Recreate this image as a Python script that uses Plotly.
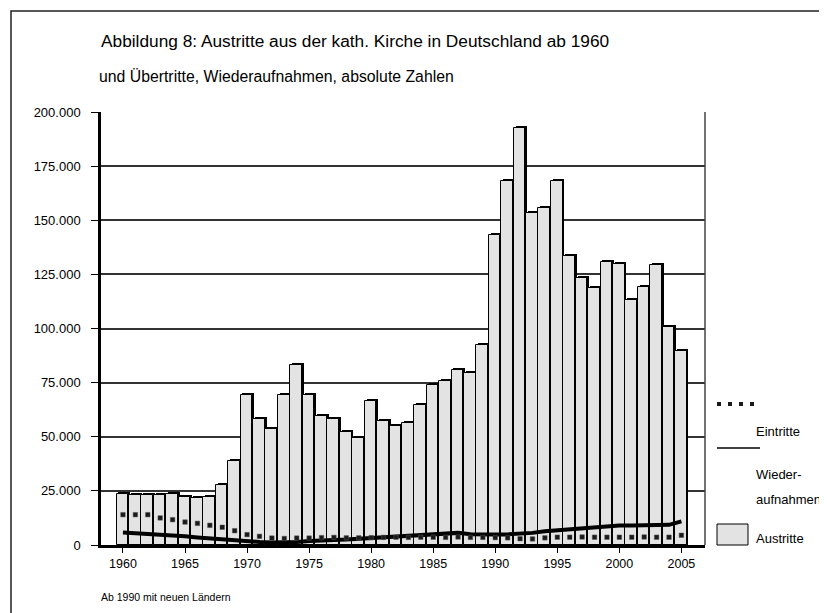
import plotly.graph_objects as go

# ---------------- data ----------------
years = list(range(1960, 2006))
austritte = [23600, 23000, 23000, 23000, 23600, 22300, 21700, 22300, 27900, 38700,
             69400, 58200, 53700, 69400, 83200, 69400, 59400, 58200, 52100, 49400,
             66400, 57100, 55100, 56400, 64500, 74100, 75900, 81000, 79500, 92500,
             143400, 168000, 192800, 153400, 155600, 168000, 133400, 123400, 118700, 130700,
             129800, 113300, 119000, 129500, 100600, 89500]
eintritte = [14000, 14000, 14000, 12500, 11700, 10600, 10000, 9100, 8200, 6600,
             4800, 4000, 3200, 3000, 3200, 3200, 3400, 3500, 3300, 3300,
             3400, 3500, 3600, 3500, 3600, 3600, 3500, 3700, 3500, 3500,
             3400, 3300, 2900, 2800, 3300, 3600, 3600, 3700, 3600, 3600,
             3600, 3600, 3700, 3600, 3600, 4500]
wiederaufnahmen = [5800, 5500, 5200, 4800, 4400, 4000, 3500, 3000, 2500, 2000,
                   1700, 1400, 1200, 1200, 1400, 1800, 2200, 2300, 2500, 2800,
                   3200, 3600, 4000, 4300, 4500, 4800, 5000, 5600, 5000, 4800,
                   4800, 4900, 5200, 5600, 6300, 6800, 7100, 7500, 8000, 8600,
                   9000, 9000, 9000, 9100, 9300, 10900]
y_ticks = [0, 25000, 50000, 75000, 100000, 125000, 150000, 175000, 200000]
x_ticks = [1960, 1965, 1970, 1975, 1980, 1985, 1990, 1995, 2000, 2005]

title = "Abbildung 8: Austritte aus der kath. Kirche in Deutschland ab 1960"
subtitle = "und Übertritte, Wiederaufnahmen, absolute Zahlen"
footnote = "Ab 1990 mit neuen Ländern"

# ---------------- layout helpers (pixel -> paper) ----------------
W, H = 827, 613
L, R, T, B = 93, 697, 104, 537


def px(x):
    return (x - L) / (R - L)


def py(y):
    return (B - y) / (B - T)


FONT = "Liberation Sans, Arial, sans-serif"
shadow_shift = 900  # ~2px upward shadow

fig = go.Figure()

# shadow bars (3D effect)
fig.add_trace(go.Bar(
    x=years, y=[v + shadow_shift for v in austritte],
    width=0.94, offset=-0.37,
    marker=dict(color="black", line=dict(width=0)),
    hoverinfo="skip", showlegend=False,
))
# main bars
fig.add_trace(go.Bar(
    x=years, y=austritte, name="Austritte",
    width=0.94, offset=-0.52,
    marker=dict(color="#e3e3e3", line=dict(color="black", width=1)),
    showlegend=False,
))
# Wiederaufnahmen (solid)
fig.add_trace(go.Scatter(
    x=years, y=wiederaufnahmen, mode="lines", name="Wiederaufnahmen",
    line=dict(color="black", width=4), showlegend=False,
))
# Eintritte (square dots)
fig.add_trace(go.Scatter(
    x=years, y=eintritte, mode="markers", name="Eintritte",
    marker=dict(symbol="square", size=4.5, color="#1a1a1a",
                line=dict(color="#555", width=0.5)),
    showlegend=False,
))

shapes = [
    # outer frame
    dict(type="rect", xref="paper", yref="paper",
         x0=px(3), x1=px(840), y0=py(3), y1=py(640),
         line=dict(color="#222", width=1.5), fillcolor="rgba(0,0,0,0)", layer="above"),
    # right border of plot area
    dict(type="line", xref="paper", yref="paper",
         x0=1, x1=1, y0=0, y1=1, line=dict(color="#444", width=1.5)),
    # legend samples
    dict(type="line", xref="paper", yref="paper",
         x0=px(709), x1=px(752), y0=py(440), y1=py(440),
         line=dict(color="black", width=1.5)),
    dict(type="rect", xref="paper", yref="paper",
         x0=px(709), x1=px(740), y0=py(537), y1=py(516),
         line=dict(color="black", width=1), fillcolor="#e3e3e3"),
]
# dotted legend sample: four small squares
for cx in (711, 722, 733, 744):
    shapes.append(dict(type="rect", xref="paper", yref="paper",
                       x0=px(cx - 2), x1=px(cx + 2), y0=py(398), y1=py(394),
                       line=dict(width=0), fillcolor="#1a1a1a"))

annotations = [
    dict(text=title, x=px(91), y=py(33), xref="paper", yref="paper",
         xanchor="left", yanchor="middle", showarrow=False,
         font=dict(family=FONT, size=17.3, color="black")),
    dict(text=subtitle, x=px(89), y=py(68), xref="paper", yref="paper",
         xanchor="left", yanchor="middle", showarrow=False,
         font=dict(family=FONT, size=15.8, color="black")),
    dict(text=footnote, x=px(91), y=py(589), xref="paper", yref="paper",
         xanchor="left", yanchor="middle", showarrow=False,
         font=dict(family=FONT, size=10.5, color="black")),
    dict(text="Eintritte", x=px(746), y=py(423), xref="paper", yref="paper",
         xanchor="left", yanchor="middle", showarrow=False,
         font=dict(family=FONT, size=13, color="black")),
    dict(text="Wieder-", x=px(746), y=py(466), xref="paper", yref="paper",
         xanchor="left", yanchor="middle", showarrow=False,
         font=dict(family=FONT, size=13, color="black")),
    dict(text="aufnahmen", x=px(746), y=py(491), xref="paper", yref="paper",
         xanchor="left", yanchor="middle", showarrow=False,
         font=dict(family=FONT, size=13, color="black")),
    dict(text="Austritte", x=px(746), y=py(530), xref="paper", yref="paper",
         xanchor="left", yanchor="middle", showarrow=False,
         font=dict(family=FONT, size=13, color="black")),
]

fig.update_layout(
    width=W, height=H,
    margin=dict(l=L, r=W - R, t=T, b=H - B, pad=0),
    paper_bgcolor="white", plot_bgcolor="white",
    barmode="overlay", bargap=0,
    separators=",.",
    font=dict(family=FONT, size=13, color="black"),
    shapes=shapes, annotations=annotations,
    showlegend=False,
)
fig.update_xaxes(
    range=[1958.23, 2006.9], tickmode="array", tickvals=x_ticks,
    ticks="outside", ticklen=5, tickwidth=1, tickcolor="black",
    showline=True, linecolor="black", linewidth=2.5,
    showgrid=False, zeroline=False,
    tickfont=dict(family=FONT, size=12.5, color="black"),
)
fig.update_yaxes(
    range=[0, 200000], tickmode="array", tickvals=y_ticks,
    tickformat=",d",
    ticks="outside", ticklen=7, tickwidth=1, tickcolor="black",
    ticklabelstandoff=8,
    showline=True, linecolor="black", linewidth=2.5,
    showgrid=True, gridcolor="#333", gridwidth=1.5,
    zeroline=False,
    tickfont=dict(family=FONT, size=13, color="black"),
)

fig.write_html("out.html")
